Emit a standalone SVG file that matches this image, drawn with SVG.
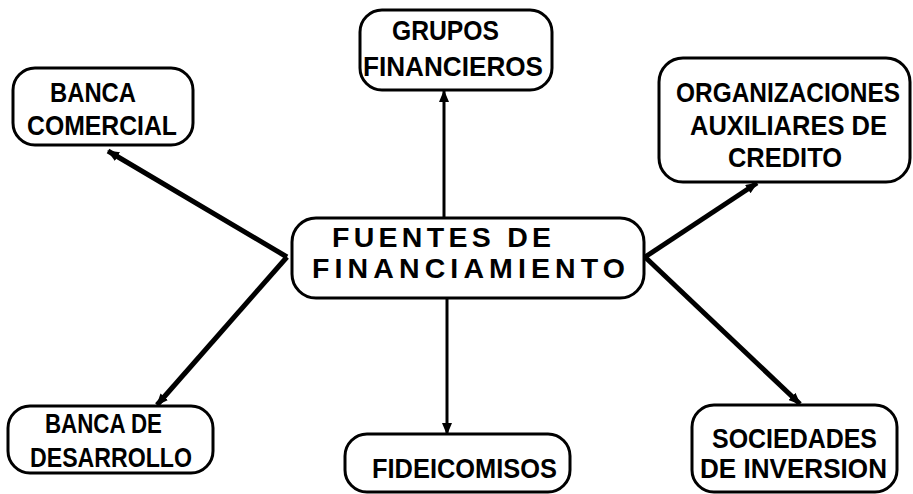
<svg xmlns="http://www.w3.org/2000/svg" width="913" height="494" viewBox="0 0 913 494">
<defs>
<marker id="ah" viewBox="0 0 12 10" refX="11" refY="5" markerWidth="12" markerHeight="10" markerUnits="userSpaceOnUse" orient="auto">
<path d="M0,0 L12,5 L0,10 z" fill="#000"/>
</marker>
<style>
.box{fill:#fff;stroke:#000;stroke-width:3}
.t{font-family:"Liberation Sans",Arial,sans-serif;font-weight:bold;font-size:28.5px;fill:#000}
.c{stroke:#000;stroke-width:5;fill:none;marker-end:url(#ah)}
.v{stroke:#000;stroke-width:3;fill:none;marker-end:url(#ah)}
</style>
</defs>
<rect width="913" height="494" fill="#fff"/>
<g id="connectors">
<line class="c" x1="287" y1="257" x2="108" y2="151"/>
<line class="v" x1="444" y1="218" x2="444" y2="91"/>
<line class="c" x1="645" y1="257" x2="757" y2="183"/>
<line class="c" x1="287" y1="257" x2="157" y2="405"/>
<line class="v" x1="447" y1="298" x2="447" y2="434"/>
<line class="c" x1="645" y1="257" x2="800" y2="404"/>
</g>
<g id="fuentes">
<rect class="box" x="292" y="218" width="352" height="80" rx="24"/>
<text class="t" x="332" y="247" textLength="225" lengthAdjust="spacing" style="letter-spacing:6px">FUENTES DE</text>
<text class="t" x="312" y="278" textLength="313" lengthAdjust="spacing">FINANCIAMIENTO</text>
</g>
<g id="banca-comercial">
<rect class="box" x="13" y="68" width="180" height="77" rx="22"/>
<text class="t" x="50" y="102" textLength="86" lengthAdjust="spacingAndGlyphs">BANCA</text>
<text class="t" x="27" y="135" textLength="150" lengthAdjust="spacingAndGlyphs">COMERCIAL</text>
</g>
<g id="grupos-financieros">
<rect class="box" x="360" y="10" width="192" height="80" rx="22"/>
<text class="t" x="392" y="40" textLength="107" lengthAdjust="spacingAndGlyphs">GRUPOS</text>
<text class="t" x="363" y="76" textLength="180" lengthAdjust="spacingAndGlyphs">FINANCIEROS</text>
</g>
<g id="organizaciones">
<rect class="box" x="659" y="58" width="251" height="124" rx="24"/>
<text class="t" x="676" y="102" textLength="224" lengthAdjust="spacingAndGlyphs">ORGANIZACIONES</text>
<text class="t" x="690" y="135" textLength="197" lengthAdjust="spacingAndGlyphs">AUXILIARES DE</text>
<text class="t" x="728" y="167" textLength="114" lengthAdjust="spacingAndGlyphs">CREDITO</text>
</g>
<g id="banca-desarrollo">
<rect class="box" x="8" y="406" width="205" height="67" rx="22"/>
<text class="t" x="45" y="433" textLength="117" lengthAdjust="spacingAndGlyphs">BANCA DE</text>
<text class="t" x="30" y="467" textLength="162" lengthAdjust="spacingAndGlyphs">DESARROLLO</text>
</g>
<g id="fideicomisos">
<rect class="box" x="345" y="434" width="225" height="58" rx="22"/>
<text class="t" x="372" y="478" textLength="185" lengthAdjust="spacingAndGlyphs">FIDEICOMISOS</text>
</g>
<g id="sociedades">
<rect class="box" x="692" y="405" width="205" height="87" rx="22"/>
<text class="t" x="712" y="448" textLength="165" lengthAdjust="spacingAndGlyphs">SOCIEDADES</text>
<text class="t" x="700" y="478" textLength="187" lengthAdjust="spacingAndGlyphs">DE INVERSION</text>
</g>
</svg>
